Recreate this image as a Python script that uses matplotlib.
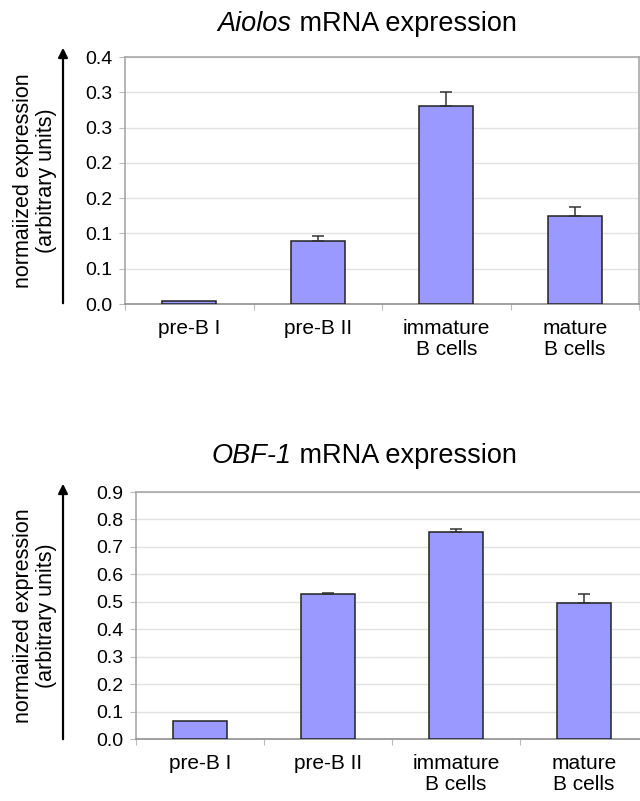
import numpy as np
import matplotlib
matplotlib.use('Agg')
import matplotlib.pyplot as plt
from matplotlib.patches import FancyArrowPatch

plt.rcParams['font.family'] = ['Liberation Sans', 'DejaVu Sans']

categories = ['pre-B I', 'pre-B II', 'immature\nB cells', 'mature\nB cells']

# Aiolos panel
aiolos_vals = [0.004, 0.089, 0.280, 0.124]
aiolos_err = [0.0, 0.008, 0.021, 0.013]
aiolos_ticks = [0.0, 0.05, 0.10, 0.15, 0.20, 0.25, 0.30, 0.35]
aiolos_ticklabels = ['0.0', '0.1', '0.1', '0.2', '0.2', '0.3', '0.3', '0.4']

# OBF-1 panel
obf_vals = [0.064, 0.527, 0.754, 0.495]
obf_err = [0.0, 0.005, 0.012, 0.033]
obf_ticks = [0.0, 0.1, 0.2, 0.3, 0.4, 0.5, 0.6, 0.7, 0.8, 0.9]
obf_ticklabels = ['0.0', '0.1', '0.2', '0.3', '0.4', '0.5', '0.6', '0.7', '0.8', '0.9']

W, H = 640, 801


def panel(ax, vals, errs, ticks, ticklabels):
  x = np.arange(len(categories))
  vals = np.array(vals)
  errs = np.array(errs)
  ax.bar(x, vals, width=0.42, color='#9999ff', edgecolor='#222222', linewidth=1.1, zorder=3)
  m = errs > 0
  ax.errorbar(x[m], vals[m], yerr=[np.zeros(m.sum()), errs[m]], fmt='none',
              ecolor='#333333', elinewidth=1.1, capsize=4.3, capthick=1.1, zorder=4)
  ax.set_xlim(-0.5, 3.5)
  ax.set_ylim(ticks[0], ticks[-1])
  ax.set_yticks(ticks)
  ax.set_yticklabels(ticklabels)
  ax.set_xticks(x)
  ax.set_xticklabels(categories, fontsize=15, linespacing=1.1)
  ax.set_xticks([-0.5, 0.5, 1.5, 2.5, 3.5], minor=True)
  ax.tick_params(axis='x', which='major', length=0, pad=11)
  ax.tick_params(axis='x', which='minor', length=4, color='#bbbbbb', width=0.8)
  ax.tick_params(axis='y', length=4, color='#bbbbbb', width=0.8, labelsize=14, pad=5)
  ax.yaxis.grid(True, color='#e2e2e2', linewidth=1, zorder=0)
  ax.set_axisbelow(True)
  for s in ['top', 'right', 'left']:
    ax.spines[s].set_color('#a8a8a8')
    ax.spines[s].set_linewidth(1.2)
  ax.spines['bottom'].set_color('#909090')
  ax.spines['bottom'].set_linewidth(1.2)


def px_axes(fig, left, right, top, bottom):
  return fig.add_axes([left / W, (H - bottom) / H, (right - left) / W, (bottom - top) / H])


def title(fig, cx, cy, italic, rest):
  r = fig.canvas.get_renderer()
  t1 = fig.text(0, (H - cy) / H, italic, style='italic', fontsize=19.5, va='center', ha='left')
  t2 = fig.text(0, (H - cy) / H, ' ' + rest, fontsize=19.5, va='center', ha='left')
  w1 = t1.get_window_extent(r).width
  w2 = t2.get_window_extent(r).width
  x0 = cx - (w1 + w2) / 2
  t1.set_x(x0 / W)
  t2.set_x((x0 + w1) / W)


def side(fig, top, bottom, arrow_top, arrow_bottom):
  fig.text(35 / W, (H - (top + bottom) / 2) / H, 'normaiized expression\n(arbitrary units)',
           rotation=90, ha='center', va='center', fontsize=15.5, linespacing=1.15)
  arr = FancyArrowPatch((63 / W, (H - arrow_bottom) / H), (63 / W, (H - arrow_top) / H),
                        transform=fig.transFigure, arrowstyle='-|>', mutation_scale=14,
                        lw=1.6, color='black')
  fig.add_artist(arr)


def main():
  fig = plt.figure(figsize=(W / 100, H / 100), dpi=100)

  ax1 = px_axes(fig, 125, 639, 57, 304)
  panel(ax1, aiolos_vals, aiolos_err, aiolos_ticks, aiolos_ticklabels)
  title(fig, 367, 24, 'Aiolos', 'mRNA expression')
  side(fig, 57, 304, 45, 306)

  ax2 = px_axes(fig, 136, 648, 492, 739)
  panel(ax2, obf_vals, obf_err, obf_ticks, obf_ticklabels)
  title(fig, 364, 456, 'OBF-1', 'mRNA expression')
  side(fig, 492, 739, 481, 742)

  fig.savefig('out.png', dpi=100)


if __name__ == "__main__":
  main()
